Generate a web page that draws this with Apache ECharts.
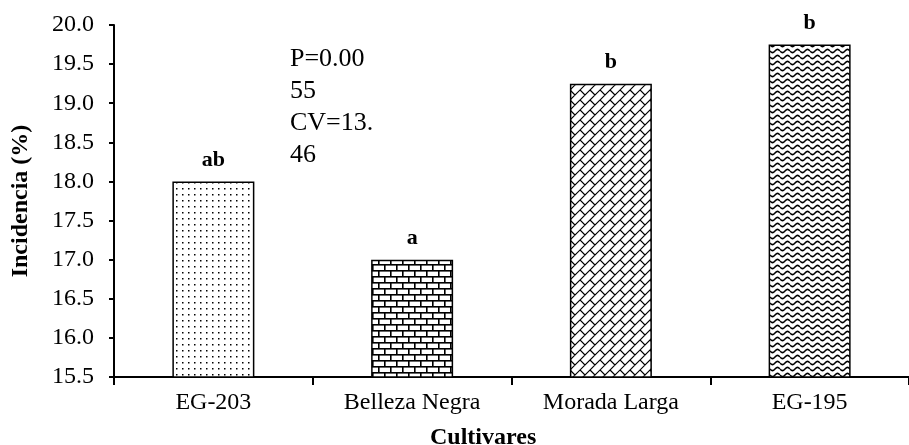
<!DOCTYPE html>
<html>
<head>
<meta charset="utf-8">
<script src="https://cdn.jsdelivr.net/npm/echarts@6/dist/echarts.min.js"></script>
<style>
  html, body { margin: 0; padding: 0; background: #fff; }
  #main { width: 909px; height: 445px; }
</style>
</head>
<body>
<div id="main"></div>
<script>
var categories = ['EG-203', 'Belleza Negra', 'Morada Larga', 'EG-195'];
var values = [18.0, 17.0, 19.25, 19.75];
var letters = ['ab', 'a', 'b', 'b'];
var noteLines = ['P=0.00', '55', 'CV=13.', '46'];

var serif = "'Liberation Serif', 'Times New Roman', serif";

// small canvases used as fill patterns for the bars
function makeTile(w, h, draw) {
    var c = document.createElement('canvas');
    c.width = w;
    c.height = h;
    var ctx = c.getContext('2d');
    ctx.fillStyle = '#fff';
    ctx.fillRect(0, 0, w, h);
    ctx.strokeStyle = '#000';
    ctx.fillStyle = '#000';
    draw(ctx);
    return c;
}

var dots = makeTile(6, 6, function (ctx) {
    ctx.fillRect(2, 2, 1.5, 1.5);
});

var bricks = makeTile(12, 12, function (ctx) {
    ctx.fillRect(0, 0, 12, 1.6);
    ctx.fillRect(0, 6, 12, 1.6);
    ctx.fillRect(0, 0, 1.6, 6);
    ctx.fillRect(6, 6, 1.6, 6);
});

var diagBricks = makeTile(20, 20, function (ctx) {
    ctx.lineWidth = 1.2;
    ctx.beginPath();
    for (var c = -40; c <= 60; c += 10) {
        ctx.moveTo(c + 20, -20);
        ctx.lineTo(c - 40, 40);
        var m = c / 10;
        var off = (((m % 2) + 2) % 2) * 5;
        for (var j = -6; j <= 6; j++) {
            var u = off + 10 * j;
            ctx.moveTo(c / 2 + u, c / 2 - u);
            ctx.lineTo(c / 2 + u + 5, c / 2 - u + 5);
        }
    }
    ctx.stroke();
});

var waves = makeTile(10, 6, function (ctx) {
    ctx.lineWidth = 1.6;
    ctx.beginPath();
    for (var x = 0; x <= 10; x += 0.5) {
        var y = 3 + 1.6 * Math.sin(2 * Math.PI * x / 10);
        if (x === 0) ctx.moveTo(x, y); else ctx.lineTo(x, y);
    }
    ctx.stroke();
});

var patterns = [dots, bricks, diagBricks, waves];

var myChart = echarts.init(document.getElementById('main'));

var option = {
    animation: false,
    backgroundColor: '#fff',
    grid: {
        left: 114,
        right: -12,
        top: 25,
        bottom: 68
    },
    xAxis: {
        type: 'category',
        data: categories,
        axisLine: { lineStyle: { color: '#000', width: 2 } },
        axisTick: { show: true, length: 8, lineStyle: { color: '#000', width: 2 } },
        axisLabel: {
            color: '#000',
            fontFamily: serif,
            fontSize: 24,
            margin: 14
        }
    },
    yAxis: {
        type: 'value',
        min: 15.5,
        max: 20,
        interval: 0.5,
        name: 'Incidencia (%)',
        nameLocation: 'middle',
        nameGap: 81,
        nameTextStyle: {
            color: '#000',
            fontFamily: serif,
            fontSize: 24,
            fontWeight: 'bold'
        },
        axisLine: { show: true, lineStyle: { color: '#000', width: 2 } },
        axisTick: { show: true, length: 5, lineStyle: { color: '#000', width: 2 } },
        splitLine: { show: false },
        axisLabel: {
            color: '#000',
            fontFamily: serif,
            fontSize: 24,
            margin: 20,
            formatter: function (v) { return v.toFixed(1); }
        }
    },
    graphic: [{
        type: 'text',
        left: 290,
        top: 43,
        style: {
            text: noteLines.join('\n'),
            fontFamily: serif,
            fontSize: 26,
            lineHeight: 32,
            fill: '#000'
        }
    }, {
        type: 'text',
        left: 430,
        top: 426,
        style: {
            text: 'Cultivares',
            fontFamily: serif,
            fontSize: 24,
            fontWeight: 'bold',
            fill: '#000'
        }
    }],
    series: [{
        type: 'bar',
        barWidth: 82,
        data: values.map(function (v, i) {
            return {
                value: v,
                itemStyle: {
                    color: { image: patterns[i], repeat: 'repeat' },
                    borderColor: '#000',
                    borderWidth: 1.5
                },
                label: { formatter: letters[i] }
            };
        }),
        label: {
            show: true,
            position: 'top',
            distance: 10,
            color: '#000',
            fontFamily: serif,
            fontSize: 22,
            fontWeight: 'bold'
        }
    }]
};

myChart.setOption(option);
window.onresize = function () {
    myChart.resize();
};
</script>
</body>
</html>
